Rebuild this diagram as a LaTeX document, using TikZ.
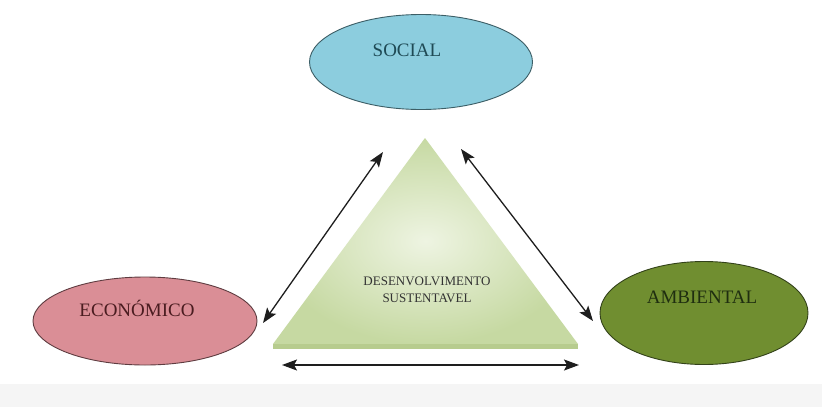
\documentclass[tikz,border=0pt]{standalone}
\usepackage{fontspec}
\setmainfont{Liberation Serif}
\usetikzlibrary{shapes.geometric,arrows.meta}

\definecolor{socialfill}{HTML}{8CCDDE}
\definecolor{socialline}{HTML}{3C5E66}
\definecolor{socialtext}{HTML}{1F4A55}
\definecolor{ecofill}{HTML}{DA8E96}
\definecolor{ecoline}{HTML}{5E3C40}
\definecolor{ecotext}{HTML}{4A1C20}
\definecolor{ambfill}{HTML}{708E30}
\definecolor{ambline}{HTML}{33421A}
\definecolor{ambtext}{HTML}{1F2E10}
\definecolor{trilight}{HTML}{EEF4E2}
\definecolor{tridark}{HTML}{C6D9A2}
\definecolor{triedge}{HTML}{B7CC8E}
\definecolor{arrowgray}{HTML}{1E1E1E}
\definecolor{floorgray}{HTML}{F5F5F5}

\begin{document}
\begin{tikzpicture}[x=1pt,y=-1pt,
  oval/.style={ellipse,line width=0.9pt,inner sep=0pt},
  ovaltext/.style={font=\fontsize{19}{21}\selectfont,inner sep=0pt},
  tip/.tip={Stealth[length=15pt,width=11pt,inset=3pt]},
  link/.style={tip-tip,line width=1.3pt,draw=arrowgray}]

% white page, light floor strip at the bottom
\useasboundingbox (0,0) rectangle (822,407);
\fill[white] (0,0) rectangle (822,407);
\fill[floorgray] (0,384) rectangle (822,407);

% the three ovals
\node[oval,draw=socialline,fill=socialfill,minimum width=223pt,minimum height=95pt]
  (social) at (421,62) {};
\node[ovaltext,text=socialtext] (socialtxt) at ([xshift=-14pt,yshift=12pt]social.center) {SOCIAL};

\node[oval,draw=ecoline,fill=ecofill,minimum width=224pt,minimum height=88pt]
  (eco) at (145,321) {};
\node[ovaltext,text=ecotext] (ecotxt) at ([xshift=-8pt,yshift=13pt]eco.center) {ECONÓMICO};

\node[oval,draw=ambline,fill=ambfill,minimum width=208pt,minimum height=103pt]
  (amb) at (704,313) {};
\node[ovaltext,text=ambtext] (ambtxt) at ([xshift=-2pt,yshift=16pt]amb.center) {AMBIENTAL};

% triangle in the middle, with a darker rim along its base
\coordinate (apex) at (425,138);
\coordinate (baseL) at (273,344);
\coordinate (baseR) at (578,344);
\shade[inner color=trilight,outer color=tridark] (apex) -- (baseR) -- (baseL) -- cycle;
\fill[triedge] (baseL) -- (baseR) -- ([yshift=-5pt]baseR) -- ([yshift=-5pt]baseL) -- cycle;
\node[font=\fontsize{13}{17}\selectfont,align=center,text=black!80] (dev) at (427,290)
  {DESENVOLVIMENTO\\SUSTENTAVEL};

% ends of the arrows
\coordinate (socL) at (383,152);
\coordinate (socR) at (461,149);
\coordinate (ecoR) at (263,323);
\coordinate (ambL) at (593,321);
\coordinate (floorL) at (282,365);
\coordinate (floorR) at (579,365);

% arrows
\draw[link] (socL) -- (ecoR);
\draw[link] (socR) -- (ambL);
\draw[link] (floorL) -- (floorR);

\end{tikzpicture}
\end{document}
